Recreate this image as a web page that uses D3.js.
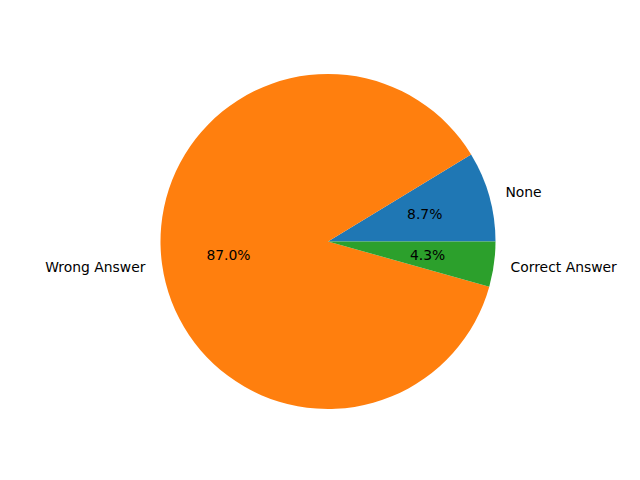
<!DOCTYPE html>
<html><head><meta charset="utf-8">
<script src="https://cdn.jsdelivr.net/npm/d3@7"></script>
<style>body{margin:0;background:#fff}svg{display:block}</style>
</head><body>
<svg id="c" width="640" height="480"></svg>
<script>
const categories = ["None", "Wrong Answer", "Correct Answer"];
const values = [2, 20, 1];
const colors = ["#1f77b4", "#ff7f0e", "#2ca02c"];

const svg = d3.select("#c");
const cx = 328, cy = 241.5, R = 167.5;
const g = svg.append("g").attr("transform", `translate(${cx},${cy})`);
const total = d3.sum(values);
const data = categories.map((c, i) => ({cat: c, v: values[i], color: colors[i]}));
const pie = d3.pie().value(d => d.v).sort(null)
  .startAngle(Math.PI / 2).endAngle(Math.PI / 2 - 2 * Math.PI);
const arcs = pie(data);
const arc = d3.arc().innerRadius(0).outerRadius(R);
g.selectAll("path").data(arcs).join("path")
  .attr("d", arc).attr("fill", d => d.data.color);

const font = "DejaVu Sans, sans-serif";
function pos(d, r) {
  const a = (d.startAngle + d.endAngle) / 2;
  return [Math.sin(a) * r, -Math.cos(a) * r];
}
g.selectAll("text.lab").data(arcs).join("text").attr("class", "lab")
  .attr("x", d => pos(d, 1.1 * R)[0])
  .attr("y", d => pos(d, 1.1 * R)[1])
  .attr("text-anchor", d => pos(d, 1)[0] >= 0 ? "start" : "end")
  .attr("dominant-baseline", "central")
  .attr("font-family", font).attr("font-size", "13.9px").attr("fill", "#000")
  .text(d => d.data.cat);
g.selectAll("text.pct").data(arcs).join("text").attr("class", "pct")
  .attr("x", d => pos(d, 0.6 * R)[0])
  .attr("y", d => pos(d, 0.6 * R)[1])
  .attr("text-anchor", "middle")
  .attr("dominant-baseline", "central")
  .attr("font-family", font).attr("font-size", "13.9px").attr("fill", "#000")
  .text(d => (d.data.v / total * 100).toFixed(1) + "%");
</script>
</body></html>
